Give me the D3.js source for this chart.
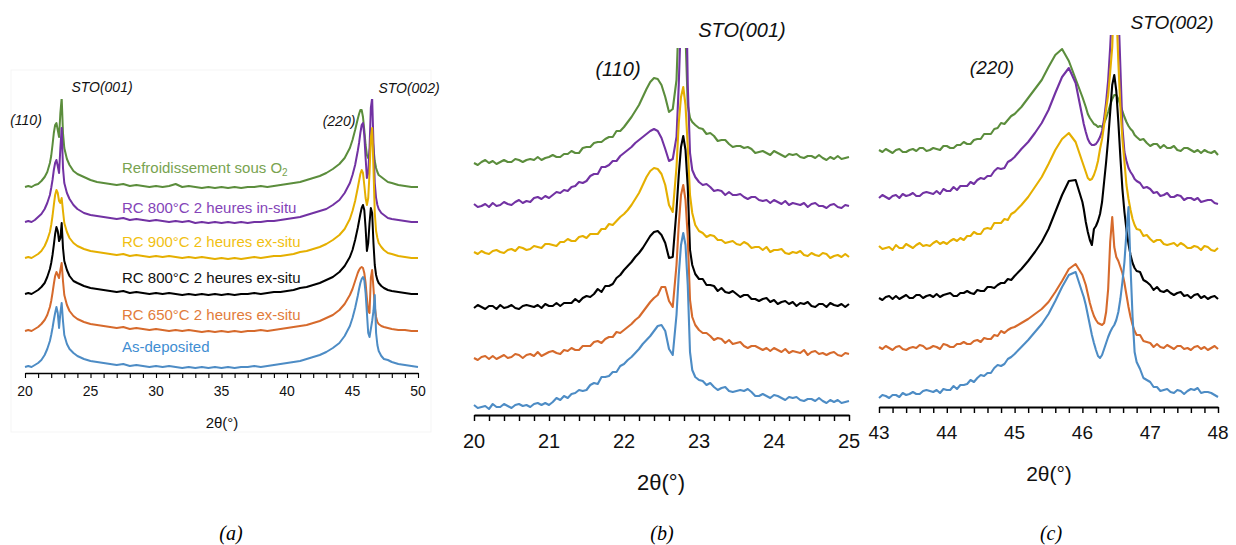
<!DOCTYPE html>
<html><head><meta charset="utf-8">
<script src="https://cdn.jsdelivr.net/npm/d3@7"></script>
<style>body{margin:0;background:#fff}svg{display:block}</style>
</head><body>
<svg id="c" width="1236" height="545"></svg>
<script>
// ---------- DATA ----------
const seriesNames = ["Refroidissement sous O", "RC 800°C 2 heures in-situ", "RC 900°C 2 heures ex-situ",
  "RC 800°C 2 heures ex-situ", "RC 650°C 2 heures ex-situ", "As-deposited"];

// Panel (a) : 2θ 20–50°, stacked intensities (a.u.)
const xA = [20,20.25,20.5,20.75,21,21.25,21.5,21.7,21.9,22,22.1,22.2,22.3,22.4,22.5,22.6,22.7,22.8,22.9,23,23.2,23.4,23.7,24,24.5,25,25.5,26,26.5,27,27.5,28,28.5,29,29.5,30,30.5,31,31.5,32,32.5,33,33.5,34,34.5,35,35.5,36,36.5,37,37.5,38,38.5,39,39.5,40,40.5,41,41.5,42,42.5,43,43.5,44,44.4,44.8,45,45.2,45.4,45.5,45.6,45.7,45.8,45.9,46,46.1,46.2,46.3,46.4,46.5,46.6,46.7,46.8,46.9,47,47.2,47.4,47.7,48,48.5,49,49.5,50];
const aRefroid = [186,187,186,188,189,192,196,201,210,217,228,240,248,250,243,236,260,275,240,225,214,208,202,199,196,193,191,190,189,188,189,187,188,187,186,187,186,187,189,186,187,186,185,186,185,186,185,186,185,186,186,187,186,187,188,189,190,191,193,195,197,200,204,209,215,225,233,243,254,259,263,263,256,243,228,218,215,220,235,240,225,212,205,201,198,196,194,191,190,188,187,186,186];
const aRC800in = [151,152,151,153,156,159,164,170,178,185,193,203,210,213,207,200,225,245,205,190,180,174,168,164,160,158,157,156,155,154,155,153,154,153,152,153,152,151,152,151,152,150,151,150,151,150,151,150,151,150,151,151,152,152,153,154,155,156,158,160,162,164,168,173,180,190,198,208,222,230,240,248,250,238,215,195,200,225,265,275,230,190,175,168,164,160,158,155,154,153,152,151,151];
const aRC900ex = [115,116,115,117,119,122,127,133,141,148,157,168,178,183,180,172,170,175,162,150,141,135,130,127,124,122,121,120,119,118,119,117,118,117,116,117,116,117,116,115,116,115,116,115,114,115,114,115,114,115,116,115,116,117,117,118,119,121,122,124,126,129,133,138,144,154,162,172,185,192,199,203,200,188,175,168,175,200,235,245,205,160,142,135,130,126,123,120,119,117,116,115,115];
const aRC800ex = [79,80,79,81,83,86,90,96,104,110,118,128,139,146,142,132,135,150,125,112,103,97,92,90,87,85,84,83,82,81,82,80,81,80,79,80,79,80,79,78,79,78,79,78,79,78,79,78,79,79,80,79,80,81,81,82,83,85,86,88,90,93,96,101,107,116,123,133,145,152,159,165,168,163,145,122,130,150,165,160,130,108,98,93,90,87,85,83,82,81,80,79,79];
const aRC650ex = [42,43,42,44,46,49,53,58,66,72,80,89,97,101,98,95,103,110,92,78,68,62,57,54,51,49,48,47,46,45,46,44,45,44,43,44,43,42,43,42,43,42,41,42,41,42,41,42,41,42,42,43,42,43,44,45,46,47,48,50,52,55,58,63,69,78,84,92,100,103,105,106,105,100,90,75,62,60,95,103,85,66,56,51,49,47,46,45,44,43,43,42,42];
const aAsDep = [6,7,6,8,10,13,18,24,32,38,45,53,60,66,60,45,60,70,52,38,29,24,20,17,14,12,11,10,9,8,9,7,8,7,6,7,6,7,6,5,6,5,6,5,6,5,6,5,6,6,7,6,7,8,9,10,11,12,14,16,18,21,25,30,37,47,55,65,77,84,90,94,96,93,80,60,40,36,44,52,62,78,40,28,22,17,14,13,11,9,8,7,6];

// Panel (b) : 2θ 20–25°
const xB = [20,20.05,20.1,20.15,20.2,20.25,20.3,20.35,20.4,20.45,20.5,20.55,20.6,20.65,20.7,20.75,20.8,20.85,20.9,20.95,21,21.05,21.1,21.15,21.2,21.25,21.3,21.35,21.4,21.45,21.5,21.55,21.6,21.65,21.7,21.75,21.8,21.85,21.9,21.95,22,22.05,22.1,22.15,22.2,22.25,22.3,22.35,22.4,22.45,22.5,22.55,22.6,22.65,22.7,22.73,22.76,22.79,22.82,22.85,22.88,22.91,22.95,23,23.05,23.1,23.15,23.2,23.25,23.3,23.35,23.4,23.45,23.5,23.55,23.6,23.65,23.7,23.75,23.8,23.85,23.9,23.95,24,24.05,24.1,24.15,24.2,24.25,24.3,24.35,24.4,24.45,24.5,24.55,24.6,24.65,24.7,24.75,24.8,24.85,24.9,24.95,25];
const bRefroid = [252,250,253,255,252,254,251,253,255,253,253,256,255,253,255,256,255,258,255,257,258,260,258,258,261,261,264,262,262,267,268,268,272,273,273,276,278,278,284,284,288,293,298,304,310,
  318,326,333,337,336,330,318,303,306,335,
  400,470,470,380,310,297,293,290,287,
  286,281,282,279,274,275,275,271,268,269,269,267,268,266,262,263,264,262,260,264,262,260,258,261,260,261,258,257,259,259,257,260,257,255,258,256,259,256,257,258];
const bRC800in = [211,208,209,211,208,212,209,210,213,211,210,213,215,212,214,213,217,218,216,219,217,220,223,222,225,224,228,229,233,232,234,239,241,241,248,248,250,254,254,259,262,265,268,272,275,
  278,281,284,286,284,277,266,254,256,278,
  330,400,470,470,330,262,245,238,233,
  230,231,228,224,225,224,220,223,220,220,221,218,216,218,218,215,214,215,212,215,213,211,214,210,212,211,210,212,208,211,212,209,209,207,210,211,208,207,210,209];
const bRC900ex = [163,161,164,162,161,164,165,163,162,165,166,164,168,167,165,166,169,168,167,171,171,170,169,173,173,176,174,174,178,179,177,181,181,181,186,186,191,190,194,198,201,205,210,216,222,
  230,238,244,247,246,241,230,210,203,248,
  292,318,328,310,268,220,202,190,184,
  182,178,180,179,175,175,172,173,174,171,170,173,171,167,168,168,165,168,163,165,165,166,162,161,163,162,164,160,159,162,160,159,162,161,157,159,160,158,161,158];
const bRC800ex = [107,110,108,106,109,109,106,110,107,108,110,107,106,109,110,109,108,110,107,111,109,109,112,109,112,112,112,116,113,117,119,118,121,126,123,129,129,131,137,140,145,149,153,158,162,
  167,173,179,183,184,180,172,157,158,205,
  240,268,279,265,228,165,150,141,136,
  136,130,130,129,124,127,123,122,124,121,118,120,120,116,116,114,116,117,113,115,111,113,114,111,113,109,112,111,113,109,108,111,111,108,112,110,109,111,108,111];
const bRC650ex = [57,55,58,59,56,59,56,58,60,57,58,61,60,57,60,61,59,63,59,61,63,64,62,61,65,64,67,65,65,69,69,69,73,74,72,76,78,78,83,82,85,88,91,95,98,
  103,108,113,117,120,128,128,114,108,150,
  190,220,230,215,178,115,98,90,85,
  82,82,79,75,77,76,72,75,71,72,73,69,67,69,69,67,65,67,64,67,65,63,66,62,64,63,62,65,60,63,64,61,62,60,62,63,60,59,62,61];
const bAsDep = [10,7,8,9,6,11,8,8,11,9,7,10,11,9,10,8,11,12,10,12,10,13,17,15,19,17,21,22,25,24,25,30,32,31,38,38,39,43,43,49,51,55,58,62,66,
  71,75,79,84,89,90,84,66,60,100,
  140,170,182,170,130,63,45,38,35,
  34,30,32,28,25,27,28,24,23,24,25,24,26,23,19,19,21,19,17,20,19,17,15,18,17,18,15,14,16,16,14,17,14,12,15,13,15,12,13,14];

// Panel (c) : 2θ 43–48°
const xC = [43,43.05,43.1,43.15,43.2,43.25,43.3,43.35,43.4,43.45,43.5,43.55,43.6,43.65,43.7,43.75,43.8,43.85,43.9,43.95,44,44.05,44.1,44.15,44.2,44.25,44.3,44.35,44.4,44.45,44.5,44.55,44.6,44.65,44.7,44.75,44.8,44.85,44.9,44.95,45,
  45.1,45.2,45.3,45.4,45.5,45.6,45.7,45.8,45.9,46,
  46.02,46.05,46.08,46.11,46.14,46.17,46.2,46.23,46.26,46.29,46.32,46.35,46.38,46.41,46.44,46.47,46.5,46.53,46.56,46.59,46.62,46.65,46.68,46.71,46.74,46.77,46.8,
  46.85,46.9,46.95,47,47.05,47.1,47.15,47.2,47.25,47.3,47.35,47.4,47.45,47.5,47.55,47.6,47.65,47.7,47.75,47.8,47.85,47.9,47.95,48];
const cRefroid = [257,255,258,256,254,257,258,255,255,257,258,256,259,259,256,257,259,258,257,261,261,259,259,262,262,265,263,263,267,268,268,273,273,273,278,279,284,283,287,291,293,
  300,309,318,327,340,352,358,346,328,310,
  306,300,293,289,286,283,282,280,281,280,284,289,295,302,308,312,312,308,302,296,290,285,281,278,276,272,270,
  267,268,264,261,263,263,259,262,259,259,261,257,256,259,259,257,255,257,254,257,255,254,256,252];
const cRC800in = [209,212,210,208,211,212,209,213,211,212,214,211,211,214,215,214,213,216,213,218,216,216,220,217,221,221,221,225,223,227,229,228,231,231,236,239,238,239,245,247,250,
  258,265,274,284,297,314,330,339,324,290,
  283,275,268,264,262,262,263,266,270,276,288,305,327,360,400,420,420,400,340,280,255,246,239,235,232,228,226,
  224,219,220,218,214,215,211,212,214,210,210,212,211,207,209,209,207,209,205,206,207,207,204,203];
const cRC900ex = [161,158,159,160,157,162,159,159,163,161,159,162,164,161,162,161,164,166,163,165,163,166,168,166,169,167,171,171,175,173,173,178,179,178,184,184,184,188,187,193,195,
  202,210,220,230,243,257,268,274,265,245,
  241,235,229,227,228,232,238,246,258,268,282,298,312,335,360,420,400,345,300,268,245,222,208,197,188,182,178,
  177,171,172,168,165,167,167,163,162,163,164,161,164,162,159,159,161,160,157,161,160,157,156,159];
const cRC800ex = [109,107,110,111,108,111,108,110,112,109,109,112,112,109,111,112,110,113,110,112,113,114,111,111,114,114,116,114,113,117,116,116,120,120,119,122,124,124,128,127,131,
  138,146,155,165,178,195,212,226,227,205,
  198,185,175,167,162,178,181,186,193,205,225,245,268,295,322,332,316,285,250,218,195,177,163,152,144,139,136,
  135,127,125,122,117,120,116,115,117,114,112,114,115,111,112,109,112,113,109,111,108,110,111,108];
const cRC650ex = [60,58,61,59,57,60,61,58,57,59,60,59,62,61,58,59,61,60,58,63,62,60,60,63,63,65,63,63,66,67,65,69,68,68,72,71,76,74,77,79,80,
  84,88,93,98,105,115,126,138,143,132,
  128,122,113,104,97,91,87,84,83,82,84,95,118,165,190,160,150,146,140,134,124,112,100,90,82,76,72,
  72,66,65,64,60,63,60,59,62,60,58,61,61,58,59,57,60,61,58,60,57,59,61,58];
const cAsDep = [9,12,11,9,12,12,10,14,12,13,15,13,13,16,17,16,15,17,14,18,17,17,21,18,22,22,23,27,25,29,32,31,34,34,39,42,41,43,48,50,53,
  60,67,75,83,93,106,120,132,135,114,
  110,102,92,82,72,64,57,51,49,52,58,64,70,75,79,82,87,95,108,125,145,175,200,140,90,55,45,
  38,29,27,25,20,20,16,17,18,15,14,17,16,13,16,18,17,19,14,15,15,14,12,10];

// Tick labels
const ticksA = [20,25,30,35,40,45,50];
const ticksB = [20,21,22,23,24,25];
const ticksC = [43,44,45,46,47,48];

// ---------- STYLE ----------
const lineColors = ["#5b8d3c","#7232a3","#e5af00","#000000","#d66a2c","#4d8cc5"];
const textColors = ["#78a350","#8444b8","#f1bf12","#111111","#e27c3b","#3f8ed2"];
const SANS = "'Liberation Sans', Arial, sans-serif";

const svg = d3.select("#c");

function drawPanel(p) {
  const x = d3.scaleLinear().domain(p.dom).range([p.left, p.right]);
  const y = d3.scaleLinear().domain([0, p.ymax]).range([p.axisY, p.top]);
  const cid = "clip-" + p.name;
  svg.append("clipPath").attr("id", cid).append("rect")
    .attr("x", p.left - 3).attr("y", p.top)
    .attr("width", p.right - p.left + 6).attr("height", p.axisY - p.top);
  const g = svg.append("g").attr("clip-path", `url(#${cid})`);
  const line = d3.line().x(d => x(d[0])).y(d => y(d[1]));
  p.series.forEach((s, i) => {
    if (s.length !== p.xs.length) console.error("length mismatch", p.name, i, s.length, p.xs.length);
    g.append("path")
      .datum(p.xs.map((v, j) => [v, s[j]]))
      .attr("d", line).attr("fill", "none")
      .attr("stroke", lineColors[i]).attr("stroke-width", p.lw)
      .attr("stroke-linejoin", "round");
  });
  const minor = d3.range(p.dom[0], p.dom[1] + 1e-6, p.minorStep);
  const ax = svg.append("g").attr("transform", `translate(0,${p.axisY})`)
    .call(d3.axisBottom(x).tickValues(minor).tickSize(p.tick).tickSizeOuter(0).tickFormat(""));
  ax.select(".domain").attr("stroke", "#000").attr("stroke-width", p.axW);
  ax.selectAll(".tick line").attr("stroke", "#000").attr("stroke-width", p.axW * 0.8);
  svg.append("g").selectAll("text").data(p.major).join("text")
    .attr("x", d => x(d)).attr("y", p.labY)
    .attr("text-anchor", "middle").attr("dominant-baseline", "central")
    .attr("font-family", SANS).attr("font-size", p.labFs).attr("fill", "#111")
    .text(d => d);
  svg.append("text").attr("x", p.titleX).attr("y", p.titleY)
    .attr("text-anchor", "middle").attr("dominant-baseline", "central")
    .attr("font-family", SANS).attr("font-size", p.titleFs).attr("fill", "#111")
    .text("2θ(°)");
  p.peaks.forEach(pk => {
    svg.append("text").attr("x", pk.x).attr("y", pk.y)
      .attr("text-anchor", "middle").attr("dominant-baseline", "central")
      .attr("font-family", SANS).attr("font-style", "italic")
      .attr("font-size", pk.fs).attr("fill", "#111").text(pk.t);
  });
}

// Panel (a) faint frame
svg.append("rect").attr("x", 11).attr("y", 70).attr("width", 420).attr("height", 362)
  .attr("fill", "none").attr("stroke", "#f5f5f5").attr("stroke-width", 1);

drawPanel({
  name: "a", dom: [20, 50], left: 25, right: 418, axisY: 373, top: 99, ymax: 274,
  xs: xA, series: [aRefroid, aRC800in, aRC900ex, aRC800ex, aRC650ex, aAsDep],
  lw: 2, tick: 5, axW: 1.4, minorStep: 1, major: ticksA,
  labY: 391, labFs: 14, titleX: 222, titleY: 422, titleFs: 15,
  peaks: [{t: "(110)", x: 26, y: 120, fs: 14}, {t: "STO(001)", x: 102, y: 87, fs: 14},
          {t: "(220)", x: 339, y: 121, fs: 14}, {t: "STO(002)", x: 409, y: 88, fs: 14}]
});

const legY = [167, 207, 241, 277, 314, 346];
seriesNames.forEach((n, i) => {
  const t = svg.append("text").attr("x", 122).attr("y", legY[i])
    .attr("dominant-baseline", "central")
    .attr("font-family", SANS).attr("font-size", 15).attr("fill", textColors[i]).text(n);
  if (i === 0) t.append("tspan").attr("font-size", 10).attr("dy", 5).text("2");
});

drawPanel({
  name: "b", dom: [20, 25], left: 474, right: 849, axisY: 415, top: 48, ymax: 367,
  xs: xB, series: [bRefroid, bRC800in, bRC900ex, bRC800ex, bRC650ex, bAsDep],
  lw: 2.1, tick: 6, axW: 1.8, minorStep: 0.2, major: ticksB,
  labY: 441, labFs: 20, titleX: 661, titleY: 482, titleFs: 22,
  peaks: [{t: "(110)", x: 618, y: 69, fs: 20}, {t: "STO(001)", x: 742, y: 30, fs: 20}]
});

drawPanel({
  name: "c", dom: [43, 48], left: 879, right: 1218, axisY: 407, top: 35, ymax: 372,
  xs: xC, series: [cRefroid, cRC800in, cRC900ex, cRC800ex, cRC650ex, cAsDep],
  lw: 2.1, tick: 6, axW: 1.8, minorStep: 0.2, major: ticksC,
  labY: 432, labFs: 19, titleX: 1049, titleY: 473, titleFs: 21,
  peaks: [{t: "(220)", x: 992, y: 67, fs: 19}, {t: "STO(002)", x: 1172, y: 22, fs: 19}]
});

[["(a)", 231], ["(b)", 662], ["(c)", 1051]].forEach(([t, cx]) => {
  svg.append("text").attr("x", cx).attr("y", 533).attr("text-anchor", "middle")
    .attr("dominant-baseline", "central")
    .attr("font-family", "'Liberation Serif', 'Times New Roman', serif")
    .attr("font-style", "italic").attr("font-size", 20).attr("fill", "#000").text(t);
});
</script>
</body></html>
